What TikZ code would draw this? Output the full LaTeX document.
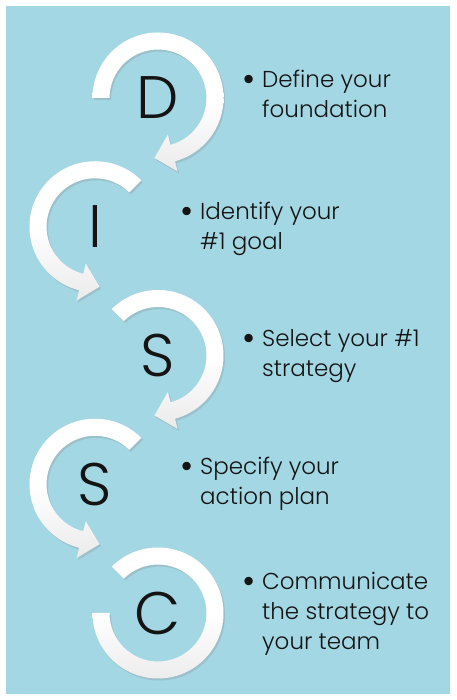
\documentclass[tikz,border=0pt]{standalone}
\usepackage{fontspec}
\setmainfont{Poppins}[UprightFont={* Light}]
\usepackage{tikz}
\usetikzlibrary{calc,shadows}
\definecolor{panelblue}{RGB}{164,215,228}
\definecolor{inkblack}{RGB}{20,20,20}
\newcommand{\bul}{\llap{\raisebox{-3.5pt}{\fontsize{36}{30}\selectfont\textbullet}\hspace{7pt}}}
% ring arrow, clockwise: centre, start angle, end angle
\newcommand{\ringCW}[3]{%
  \path[ring] ($(#1)+(#2:65.5)$) arc[start angle=#2, end angle=#3, radius=65.5]
    -- ($(#1)+(#3:76)$) -- ($(#1)+(#3:57)+({#3-90}:19)$) -- ($(#1)+(#3:38)$)
    -- ($(#1)+(#3:48.5)$) arc[start angle=#3, end angle=#2, radius=48.5] -- cycle;}
% ring arrow, counterclockwise
\newcommand{\ringCCW}[3]{%
  \path[ring] ($(#1)+(#2:65.5)$) arc[start angle=#2, end angle=#3, radius=65.5]
    -- ($(#1)+(#3:76)$) -- ($(#1)+(#3:57)+({#3+90}:19)$) -- ($(#1)+(#3:38)$)
    -- ($(#1)+(#3:48.5)$) arc[start angle=#3, end angle=#2, radius=48.5] -- cycle;}

\begin{document}
\begin{tikzpicture}[
  x=1pt, y=1pt,
  ring/.style={top color=white, bottom color=black!8, middle color=white,
    drop shadow={shadow xshift=1.5pt, shadow yshift=-2pt, opacity=.25}},
  letter/.style={font=\fontsize{60}{60}\selectfont, text=inkblack, inner sep=0pt},
  itemtext/.style={font=\fontsize{23}{30}\selectfont, text=inkblack, align=left,
    anchor=base west, inner sep=0pt}
]
\useasboundingbox (0,0) rectangle (456,700);
\fill[panelblue] (6,6) rectangle (450,694);

% letters
\node[letter] (D)  at (158,602)    {D};
\node[letter] (I)  at (95,473.25)  {I};
\node[letter] (S1) at (158,344.5)  {S};
\node[letter] (S2) at (95,215.75)  {S};
\node[letter] (C)  at (158,87)     {C};

% rings
\ringCW{D}{180}{-75}
\ringCCW{I}{45}{256}
\ringCW{S1}{135}{-75}
\ringCCW{S2}{45}{256}
\path[ring] ($(C)+(135:65.5)$) arc[start angle=135, end angle=-180, radius=65.5]
  -- ($(C)+(-180:48.5)$) arc[start angle=-180, end angle=135, radius=48.5] -- cycle;

% steps (anchored on the last line)
\node[itemtext] (tD)  at (262,582) {\bul Define your\\foundation};
\node[itemtext] (tI)  at (200,450) {\bul Identify your\\\#1 goal};
\node[itemtext] (tS1) at (262,323) {\bul Select your \#1\\strategy};
\node[itemtext] (tS2) at (200,195) {\bul Specify your\\action plan};
\node[itemtext] (tC)  at (262,50)  {\bul Communicate\\the strategy to\\your team};
\end{tikzpicture}
\end{document}
